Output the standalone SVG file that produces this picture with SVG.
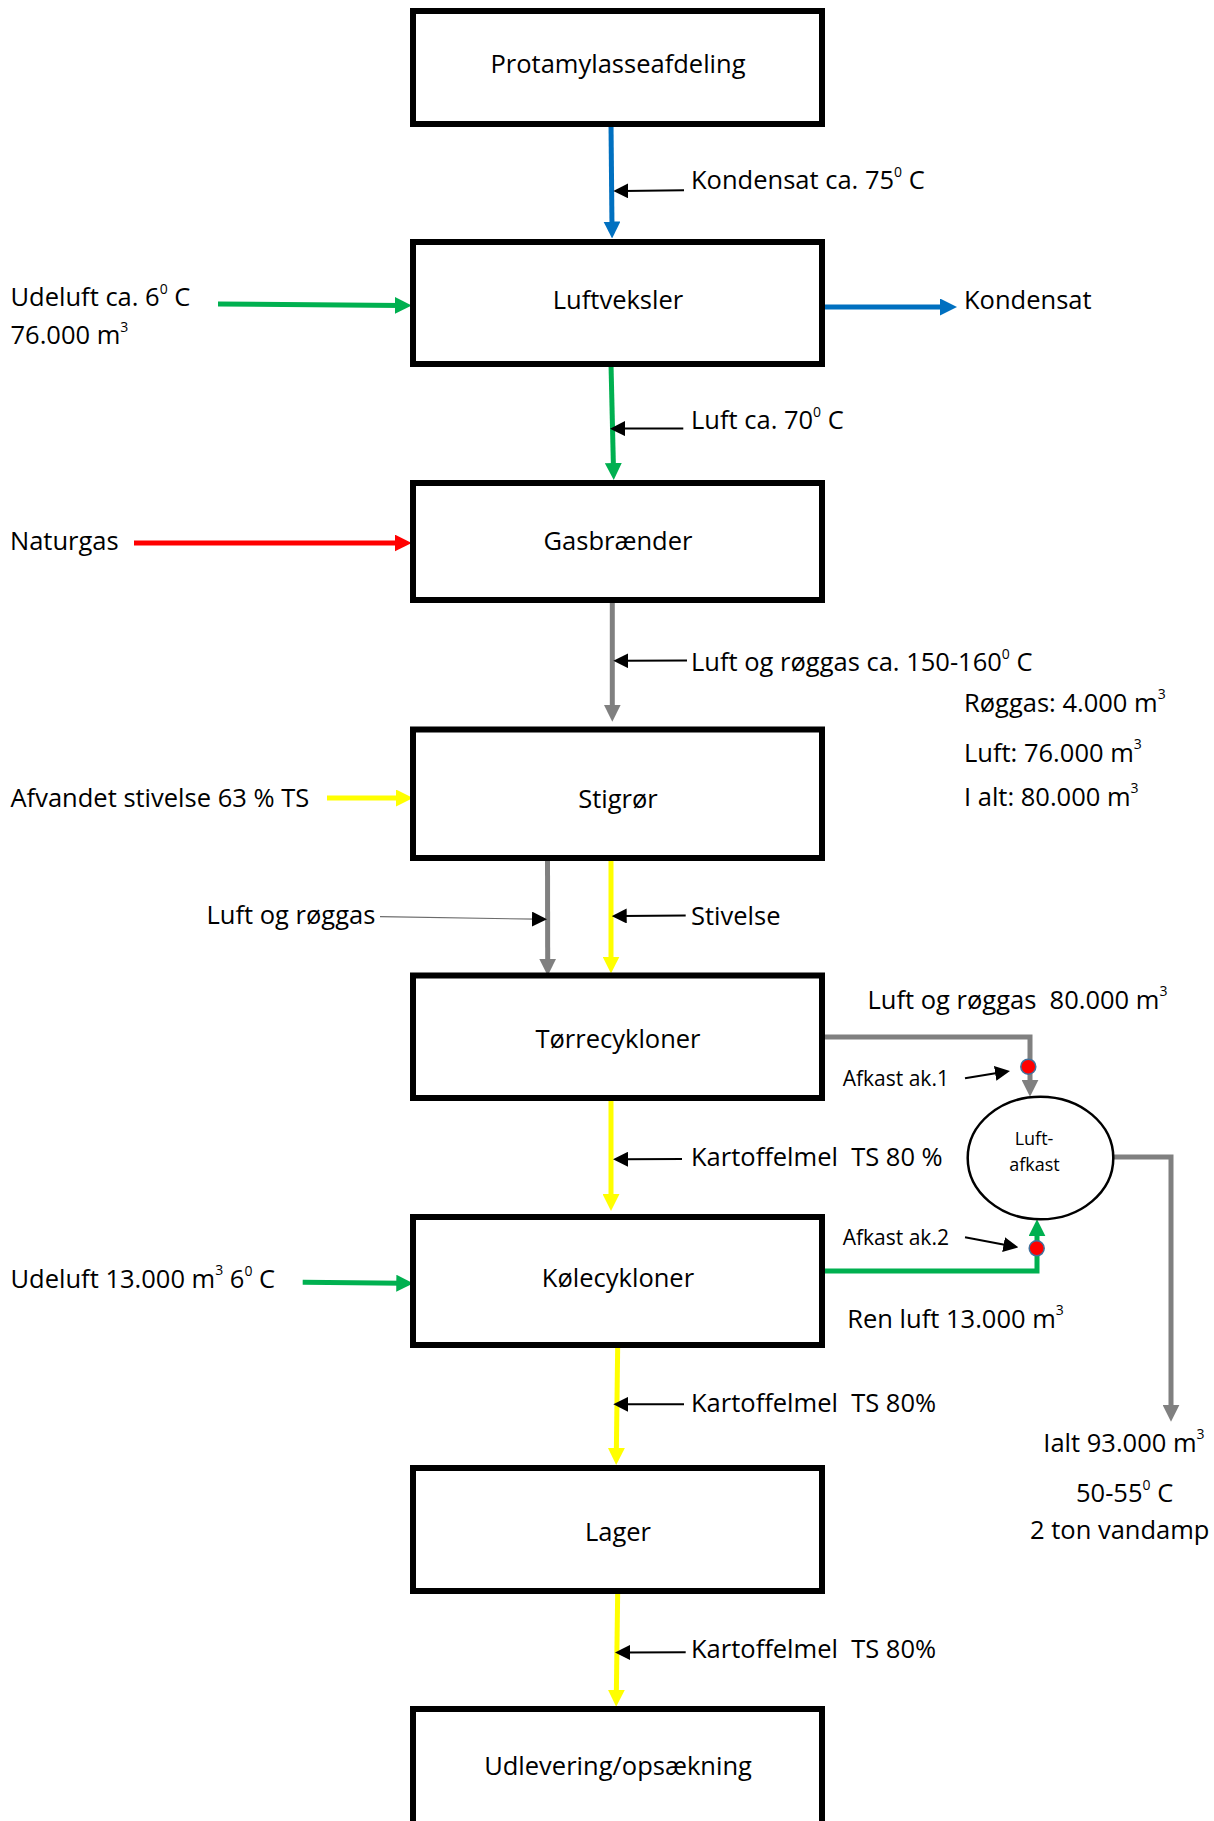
<svg xmlns="http://www.w3.org/2000/svg" width="1214" height="1821" viewBox="0 0 1214 1821">
<style>
.box{fill:#fff;stroke:#000;stroke-width:6}
.t{font-family:"Open Sans","Liberation Sans",sans-serif;font-size:25.5px;fill:#000;white-space:pre}
.c{text-anchor:middle}
.s{font-size:21px}
.e{font-size:18px}
.sup{font-size:14px}
.fl{fill:none;stroke-width:5}
.blue{stroke:#0070C0}
.green{stroke:#00B050}
.red{stroke:#FF0000}
.yellow{stroke:#FFFF00}
.gray{stroke:#808080}
.lbl{fill:none;stroke:#000;stroke-width:2}
.thin{fill:none;stroke:#6b6b6b;stroke-width:1.2}
.dot{fill:#FF0000;stroke:#41719C;stroke-width:1.5}
</style>
<defs>
<marker id="mBlue" markerUnits="userSpaceOnUse" markerWidth="17" markerHeight="17" refX="7" refY="8.5" orient="auto"><path d="M0,0 L17,8.5 L0,17 z" fill="#0070C0"/></marker>
<marker id="mGreen" markerUnits="userSpaceOnUse" markerWidth="17" markerHeight="17" refX="7" refY="8.5" orient="auto"><path d="M0,0 L17,8.5 L0,17 z" fill="#00B050"/></marker>
<marker id="mRed" markerUnits="userSpaceOnUse" markerWidth="17" markerHeight="17" refX="7" refY="8.5" orient="auto"><path d="M0,0 L17,8.5 L0,17 z" fill="#FF0000"/></marker>
<marker id="mYellow" markerUnits="userSpaceOnUse" markerWidth="17" markerHeight="17" refX="7" refY="8.5" orient="auto"><path d="M0,0 L17,8.5 L0,17 z" fill="#FFFF00"/></marker>
<marker id="mGray" markerUnits="userSpaceOnUse" markerWidth="17" markerHeight="17" refX="7" refY="8.5" orient="auto"><path d="M0,0 L17,8.5 L0,17 z" fill="#808080"/></marker>
<marker id="mBlack" markerUnits="userSpaceOnUse" markerWidth="15" markerHeight="15" refX="5" refY="7.5" orient="auto"><path d="M0,0 L15,7.5 L0,15 z" fill="#000"/></marker>
</defs>
<rect x="0" y="0" width="1214" height="1821" fill="#fff"/>

<g id="connectors">
<path class="fl blue" d="M611,124 L612,228.5" marker-end="url(#mBlue)"/>
<path class="fl blue" d="M819,307 L947,307" marker-end="url(#mBlue)"/>
<path class="fl green" d="M218,304 L401.7,305.5" marker-end="url(#mGreen)"/>
<path class="fl green" d="M611,364 L613.5,470" marker-end="url(#mGreen)"/>
<path class="fl red" d="M134,543 L401.7,543" marker-end="url(#mRed)"/>
<path class="fl gray" d="M612.3,600 L612.3,711.7" marker-end="url(#mGray)"/>
<path class="fl yellow" d="M327,798 L403,798" marker-end="url(#mYellow)"/>
<path class="fl gray" d="M547.5,858 L547.7,965.7" marker-end="url(#mGray)"/>
<path class="fl yellow" d="M611,858 L611,963.6" marker-end="url(#mYellow)"/>
<path class="fl yellow" d="M611,1098 L611,1201" marker-end="url(#mYellow)"/>
<path class="fl gray" d="M820,1037 L1030,1037 L1030,1086.7" marker-end="url(#mGray)"/>
<path class="fl green" d="M817,1271 L1037,1271 L1037,1229.3" marker-end="url(#mGreen)"/>
<path class="fl gray" d="M1113,1157 L1171,1157 L1171,1411.8" marker-end="url(#mGray)"/>
<path class="fl green" d="M302.7,1282.3 L403.3,1283.3" marker-end="url(#mGreen)"/>
<path class="fl yellow" d="M617.7,1345 L616.3,1455" marker-end="url(#mYellow)"/>
<path class="fl yellow" d="M617.7,1591 L616.3,1696.7" marker-end="url(#mYellow)"/>
<circle class="dot" cx="1028.3" cy="1066.7" r="7.5"/>
<circle class="dot" cx="1036.7" cy="1248.3" r="7.5"/>
<path class="lbl" d="M684,190.3 L623.3,191" marker-end="url(#mBlack)"/>
<path class="lbl" d="M683.3,428.4 L620,428.6" marker-end="url(#mBlack)"/>
<path class="lbl" d="M687,660.6 L623.3,660.8" marker-end="url(#mBlack)"/>
<path class="lbl" d="M685.7,915.5 L621.7,916" marker-end="url(#mBlack)"/>
<path class="lbl" d="M682,1159 L623,1159.3" marker-end="url(#mBlack)"/>
<path class="lbl" d="M684,1404.3 L623.3,1404.3" marker-end="url(#mBlack)"/>
<path class="lbl" d="M685.7,1652.3 L625,1652.5" marker-end="url(#mBlack)"/>
<path class="thin" d="M380,916.7 L537,919.2" marker-end="url(#mBlack)"/>
<path class="lbl" d="M965,1078.3 L1000.1,1072.6" marker-end="url(#mBlack)"/>
<path class="lbl" d="M965,1237.3 L1008.5,1245.5" marker-end="url(#mBlack)"/>
</g>

<g id="n-protamylasse"><rect class="box" x="413" y="11" width="409" height="113"/><text class="t c" x="618" y="72.5">Protamylasseafdeling</text></g>
<g id="n-luftveksler"><rect class="box" x="413" y="242" width="409" height="122"/><text class="t c" x="618" y="308.5">Luftveksler</text></g>
<g id="n-gasbraender"><rect class="box" x="413" y="483" width="409" height="117"/><text class="t c" x="618" y="550">Gasbrænder</text></g>
<g id="n-stigroer"><rect class="box" x="413" y="729.5" width="409" height="128.5"/><text class="t c" x="618" y="807.5">Stigrør</text></g>
<g id="n-toerrecykloner"><rect class="box" x="413" y="975.5" width="409" height="122.5"/><text class="t c" x="618" y="1047.5">Tørrecykloner</text></g>
<g id="n-koelecykloner"><rect class="box" x="413" y="1217" width="409" height="128"/><text class="t c" x="618" y="1286.5">Kølecykloner</text></g>
<g id="n-lager"><rect class="box" x="413" y="1468" width="409" height="123"/><text class="t c" x="618" y="1540.5">Lager</text></g>
<g id="n-udlevering"><rect class="box" x="413" y="1709" width="409" height="140"/><text class="t c" x="618" y="1775">Udlevering/opsækning</text></g>
<g id="n-luftafkast"><ellipse cx="1040.5" cy="1158" rx="72.8" ry="61.3" fill="#fff" stroke="#000" stroke-width="2.5"/><text class="t e c" x="1034" y="1145">Luft-</text><text class="t e c" x="1034.5" y="1170.5">afkast</text></g>

<g id="labels">
<text class="t" x="691" y="188.5">Kondensat ca. 75<tspan class="sup" dy="-12">0</tspan><tspan dy="12"> C</tspan></text>
<text class="t" x="964" y="309">Kondensat</text>
<text class="t" x="10.5" y="306">Udeluft ca. 6<tspan class="sup" dy="-12">0</tspan><tspan dy="12"> C</tspan></text>
<text class="t" x="10.5" y="343.5">76.000 m<tspan class="sup" dy="-12">3</tspan></text>
<text class="t" x="691" y="428.5">Luft ca. 70<tspan class="sup" dy="-12">0</tspan><tspan dy="12"> C</tspan></text>
<text class="t" x="10" y="550">Naturgas</text>
<text class="t" x="691" y="671">Luft og røggas ca. 150-160<tspan class="sup" dy="-12">0</tspan><tspan dy="12"> C</tspan></text>
<text class="t" x="964" y="712">Røggas: 4.000 m<tspan class="sup" dy="-13">3</tspan></text>
<text class="t" x="964" y="762">Luft: 76.000 m<tspan class="sup" dy="-13">3</tspan></text>
<text class="t" x="964" y="806">I alt: 80.000 m<tspan class="sup" dy="-13">3</tspan></text>
<text class="t" x="10.5" y="806.5">Afvandet stivelse 63 % TS</text>
<text class="t" x="206.5" y="924">Luft og røggas</text>
<text class="t" x="691" y="925">Stivelse</text>
<text class="t" x="867.5" y="1008.5" xml:space="preserve">Luft og røggas  80.000 m<tspan class="sup" dy="-13">3</tspan></text>
<text class="t s" x="842.7" y="1086">Afkast ak.1</text>
<text class="t" x="691" y="1165.5" xml:space="preserve">Kartoffelmel  TS 80 %</text>
<text class="t s" x="842.7" y="1244.5">Afkast ak.2</text>
<text class="t" x="10.5" y="1288">Udeluft 13.000 m<tspan class="sup" dy="-13">3</tspan><tspan dy="13"> 6</tspan><tspan class="sup" dy="-12">0</tspan><tspan dy="12"> C</tspan></text>
<text class="t" x="847.3" y="1328">Ren luft 13.000 m<tspan class="sup" dy="-13">3</tspan></text>
<text class="t" x="691" y="1411.5" xml:space="preserve">Kartoffelmel  TS 80%</text>
<text class="t" x="1043.3" y="1452">Ialt 93.000 m<tspan class="sup" dy="-13">3</tspan></text>
<text class="t" x="1076" y="1501.5">50-55<tspan class="sup" dy="-12">0</tspan><tspan dy="12"> C</tspan></text>
<text class="t" x="1030" y="1539">2 ton vandamp</text>
<text class="t" x="691" y="1658" xml:space="preserve">Kartoffelmel  TS 80%</text>
</g>
</svg>
